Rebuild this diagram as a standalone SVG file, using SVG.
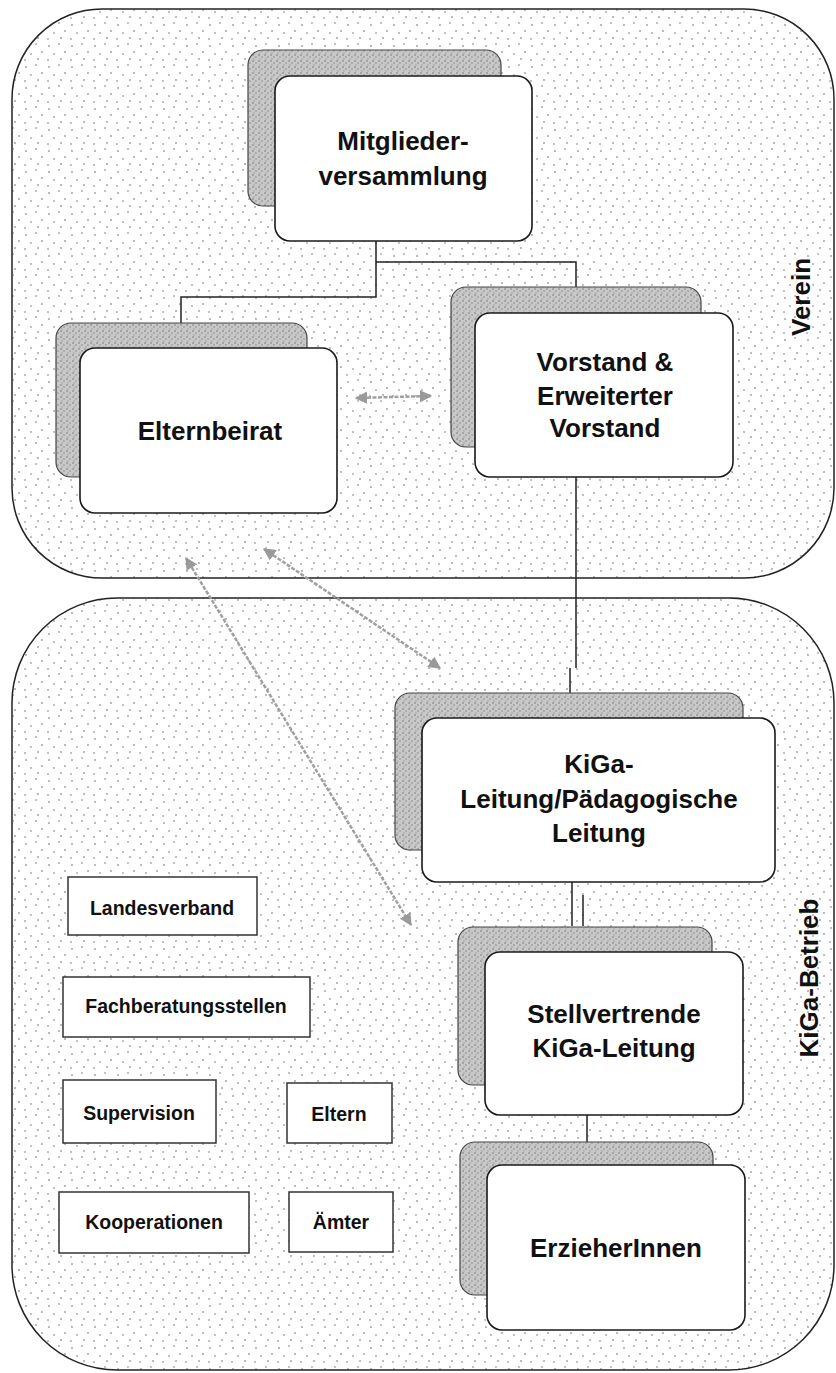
<svg xmlns="http://www.w3.org/2000/svg" width="836" height="1373" viewBox="0 0 836 1373">
<defs>
<pattern id="stip" width="23" height="21" patternUnits="userSpaceOnUse">
<rect width="23" height="21" fill="#ffffff"/>
<circle cx="3" cy="4" r="0.75" fill="#555"/>
<circle cx="13" cy="2" r="0.7" fill="#555"/>
<circle cx="19" cy="10" r="0.75" fill="#555"/>
<circle cx="8" cy="12" r="0.7" fill="#555"/>
<circle cx="15" cy="17" r="0.75" fill="#555"/>
<circle cx="2" cy="18" r="0.7" fill="#555"/>
</pattern>
<pattern id="shade" width="6" height="6" patternUnits="userSpaceOnUse">
<rect width="6" height="6" fill="#c8c8c8"/>
<circle cx="1" cy="1" r="0.8" fill="#777"/>
<circle cx="4" cy="3" r="0.8" fill="#888"/>
<circle cx="2" cy="5" r="0.7" fill="#999"/>
</pattern>
<marker id="ah" viewBox="0 0 10 10" refX="9" refY="5" markerWidth="5" markerHeight="5" orient="auto-start-reverse">
<path d="M0,0 L10,5 L0,10 z" fill="#9a9a9a"/>
</marker>
<style>
.cont{fill:url(#stip);stroke:#222;stroke-width:1.5}
.shadow{fill:url(#shade);stroke:#444;stroke-width:1.2}
.box{fill:#ffffff;stroke:#1a1a1a;stroke-width:1.6}
.sbox{fill:#ffffff;stroke:#333;stroke-width:1.5}
.t{font-family:"Liberation Sans",Arial,sans-serif;font-weight:bold;font-size:26px;fill:#111;text-anchor:middle}
.ts{font-family:"Liberation Sans",Arial,sans-serif;font-weight:bold;font-size:19.5px;fill:#111;text-anchor:middle}
.lbl{font-family:"Liberation Sans",Arial,sans-serif;font-weight:bold;font-size:26px;fill:#111;text-anchor:middle}
.conn{fill:none;stroke:#222;stroke-width:1.5}
.arr{fill:none;stroke:#a0a0a0;stroke-width:2.5;stroke-dasharray:4 1.5}
</style>
</defs>

<g id="verein">
<rect class="cont" x="12" y="9" width="822" height="569" rx="90" ry="90"/>
<text class="lbl" transform="translate(810,297) rotate(-90)">Verein</text>
</g>
<g id="kiga-betrieb">
<rect class="cont" x="12" y="598" width="822" height="772" rx="105" ry="105"/>
<text class="lbl" transform="translate(818,978) rotate(-90)">KiGa-Betrieb</text>
</g>

<g id="connectors">
<path class="conn" d="M376,241 V297 H181 V323"/>
<path class="conn" d="M376,262 H576 V287"/>
<path class="conn" d="M576,477 V668 M570,668 V693"/>
<path class="conn" d="M572,882 V926 M583,895 V926"/>
<path class="conn" d="M587,1115 V1142"/>
<line class="arr" x1="356" y1="398" x2="431" y2="396" marker-start="url(#ah)" marker-end="url(#ah)"/>
<line class="arr" x1="186" y1="558" x2="411" y2="925" marker-start="url(#ah)" marker-end="url(#ah)"/>
<line class="arr" x1="264" y1="549" x2="440" y2="668" marker-start="url(#ah)" marker-end="url(#ah)"/>
</g>

<g id="mitgliederversammlung">
<rect class="shadow" x="248" y="50" width="253" height="156" rx="15"/>
<rect class="box" x="275" y="76" width="257" height="165" rx="15"/>
<text class="t" x="403" y="150">Mitglieder-</text>
<text class="t" x="403" y="185">versammlung</text>
</g>

<g id="elternbeirat">
<rect class="shadow" x="56" y="323" width="251" height="154" rx="15"/>
<rect class="box" x="80" y="348" width="257" height="165" rx="15"/>
<text class="t" x="210" y="440">Elternbeirat</text>
</g>

<g id="vorstand">
<rect class="shadow" x="451" y="287" width="250" height="160" rx="15"/>
<rect class="box" x="475" y="313" width="258" height="164" rx="15"/>
<text class="t" x="605" y="371">Vorstand &amp;</text>
<text class="t" x="605" y="405">Erweiterter</text>
<text class="t" x="605" y="437">Vorstand</text>
</g>

<g id="kiga-leitung">
<rect class="shadow" x="395" y="693" width="348" height="157" rx="15"/>
<rect class="box" x="422" y="718" width="353" height="164" rx="15"/>
<text class="t" x="599" y="773">KiGa-</text>
<text class="t" x="599" y="808">Leitung/Pädagogische</text>
<text class="t" x="599" y="842">Leitung</text>
</g>

<g id="stellvertrende">
<rect class="shadow" x="458" y="927" width="254" height="158" rx="15"/>
<rect class="box" x="485" y="952" width="258" height="163" rx="15"/>
<text class="t" x="614" y="1023">Stellvertrende</text>
<text class="t" x="614" y="1057">KiGa-Leitung</text>
</g>

<g id="erzieherinnen">
<rect class="shadow" x="460" y="1142" width="253" height="153" rx="15"/>
<rect class="box" x="487" y="1165" width="258" height="165" rx="15"/>
<text class="t" x="616" y="1257">ErzieherInnen</text>
</g>

<g id="landesverband">
<rect class="sbox" x="68" y="877" width="189" height="58"/>
<text class="ts" x="162" y="915">Landesverband</text>
</g>
<g id="fachberatungsstellen">
<rect class="sbox" x="63" y="977" width="247" height="60"/>
<text class="ts" x="186" y="1013">Fachberatungsstellen</text>
</g>
<g id="supervision">
<rect class="sbox" x="63" y="1080" width="153" height="63"/>
<text class="ts" x="139" y="1120">Supervision</text>
</g>
<g id="eltern">
<rect class="sbox" x="287" y="1083" width="105" height="60"/>
<text class="ts" x="339" y="1121">Eltern</text>
</g>
<g id="kooperationen">
<rect class="sbox" x="59" y="1192" width="190" height="61"/>
<text class="ts" x="154" y="1229">Kooperationen</text>
</g>
<g id="aemter">
<rect class="sbox" x="289" y="1192" width="104" height="60"/>
<text class="ts" x="341" y="1229">Ämter</text>
</g>
</svg>
